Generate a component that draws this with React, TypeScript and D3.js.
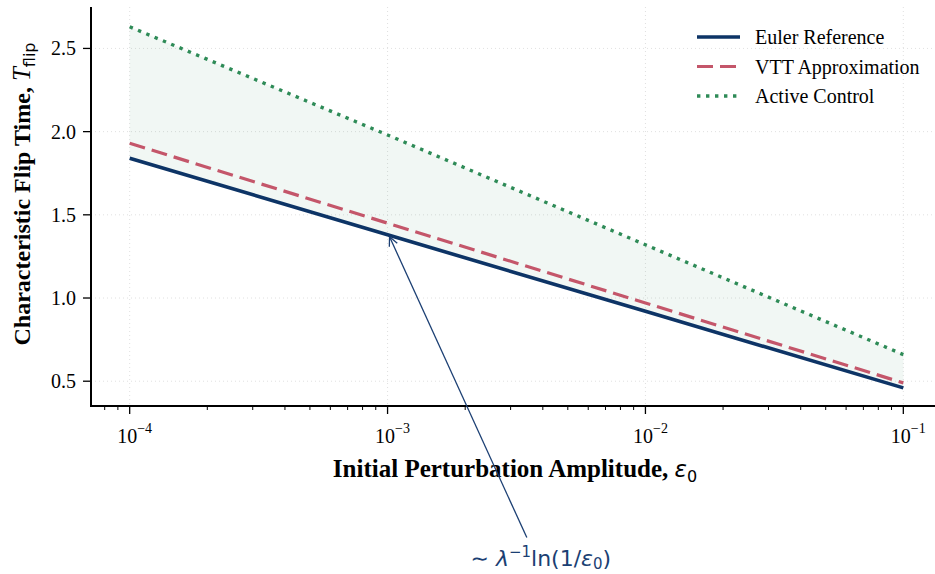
import React, { useEffect, useRef } from "react";
import * as d3 from "d3";

// values (straight lines on log x, so decades are enough)
const epsValues = [1e-4, 1e-3, 1e-2, 1e-1];
const eulerRef = [1.84, 1.38, 0.92, 0.46];
const vttApprox = [1.93, 1.45, 0.97, 0.49];
const activeControl = [2.63, 1.98, 1.32, 0.66];

const xTickExps = [-4, -3, -2, -1];
const yTicks = [0.5, 1.0, 1.5, 2.0, 2.5];

const seriesNames = ["Euler Reference", "VTT Approximation", "Active Control"];

const annotTarget = [1e-3, 1.38];
const annotText = [4e-3, -0.56];

export default function App() {
  const ref = useRef<SVGSVGElement>(null);

  useEffect(() => {
    document.body.style.margin = "0";
    const width = 935;
    const height = 574;
    const svg = d3.select(ref.current);
    svg.selectAll("*").remove();
    svg.attr("width", width).attr("height", height);

    const serif = "'Liberation Serif', 'Times New Roman', serif";
    const sans = "'DejaVu Sans', sans-serif";

    const x = d3.scaleLog().domain([10 ** -4.15, 10 ** -0.85]).range([91, 942]);
    const y = d3.scaleLinear().domain([0.351, 2.749]).range([406, 7]);

    const colors = { euler: "#0d3466", vtt: "#c4566a", active: "#2e8b57" };

    const rows = epsValues.map((e, i) => ({
      e,
      euler: eulerRef[i],
      vtt: vttApprox[i],
      active: activeControl[i],
    }));

    // grid
    const grid = svg.append("g");
    yTicks.forEach((t) => {
      grid.append("line")
        .attr("x1", 91).attr("x2", 942)
        .attr("y1", y(t)).attr("y2", y(t))
        .attr("stroke", "#d8d8d8").attr("stroke-width", 0.8)
        .attr("stroke-dasharray", "1,3");
    });
    xTickExps.forEach((p) => {
      grid.append("line")
        .attr("x1", x(10 ** p)).attr("x2", x(10 ** p))
        .attr("y1", 7).attr("y2", 406)
        .attr("stroke", "#d8d8d8").attr("stroke-width", 0.8)
        .attr("stroke-dasharray", "1,3");
    });

    // shaded band between euler and active control
    const band = d3.area<any>()
      .x((d) => x(d.e))
      .y0((d) => y(d.euler))
      .y1((d) => y(d.active));
    svg.append("path")
      .datum(rows)
      .attr("d", band)
      .attr("fill", colors.active)
      .attr("fill-opacity", 0.065);

    const line = (key: string) =>
      d3.line<any>().x((d) => x(d.e)).y((d) => y(d[key]));

    svg.append("path").datum(rows).attr("d", line("euler"))
      .attr("fill", "none").attr("stroke", colors.euler).attr("stroke-width", 3.6);
    svg.append("path").datum(rows).attr("d", line("vtt"))
      .attr("fill", "none").attr("stroke", colors.vtt).attr("stroke-width", 3.2)
      .attr("stroke-dasharray", "16,7");
    svg.append("path").datum(rows).attr("d", line("active"))
      .attr("fill", "none").attr("stroke", colors.active).attr("stroke-width", 3.4)
      .attr("stroke-dasharray", "3.4,5.6");

    // axes spines
    svg.append("line").attr("x1", 91).attr("x2", 91).attr("y1", 7).attr("y2", 407)
      .attr("stroke", "#000").attr("stroke-width", 2);
    svg.append("line").attr("x1", 90).attr("x2", 942).attr("y1", 406).attr("y2", 406)
      .attr("stroke", "#000").attr("stroke-width", 2);

    // y ticks
    yTicks.forEach((t) => {
      svg.append("line").attr("x1", 83).attr("x2", 91)
        .attr("y1", y(t)).attr("y2", y(t)).attr("stroke", "#000").attr("stroke-width", 1.3);
      svg.append("text").attr("x", 76).attr("y", y(t) + 7)
        .attr("text-anchor", "end").style("font-family", serif).style("font-size", "20px")
        .text(t.toFixed(1));
    });

    // x ticks (major + minor)
    const [d0, d1] = x.domain();
    for (let p = -5; p <= 0; p++) {
      for (let m = 1; m <= 9; m++) {
        const v = m * 10 ** p;
        if (v < d0 || v > d1) continue;
        const major = m === 1;
        svg.append("line").attr("x1", x(v)).attr("x2", x(v))
          .attr("y1", 406).attr("y2", 406 + (major ? 8 : 4))
          .attr("stroke", "#000").attr("stroke-width", major ? 1.3 : 1);
      }
    }
    xTickExps.forEach((p) => {
      const t = svg.append("text").attr("x", x(10 ** p) + 5).attr("y", 443)
        .attr("text-anchor", "middle").style("font-family", serif).style("font-size", "20px");
      t.append("tspan").text("10");
      t.append("tspan").attr("dy", -10).style("font-size", "14px").text("\u2212" + Math.abs(p));
    });

    // axis labels
    const xl = svg.append("text").attr("x", 515).attr("y", 477)
      .attr("text-anchor", "middle").style("font-family", serif)
      .style("font-size", "25px").style("font-weight", "bold");
    xl.append("tspan").text("Initial Perturbation Amplitude, ");
    xl.append("tspan").style("font-family", sans).style("font-style", "italic")
      .style("font-weight", "normal").style("font-size", "23px").text("\u03b5");
    xl.append("tspan").attr("dy", 5).style("font-family", sans)
      .style("font-weight", "normal").style("font-size", "16px").text("0");

    const yl = svg.append("text")
      .attr("transform", "translate(30,194) rotate(-90)")
      .attr("text-anchor", "middle").style("font-family", serif)
      .style("font-size", "24px").style("font-weight", "bold");
    yl.append("tspan").text("Characteristic Flip Time, ");
    yl.append("tspan").style("font-style", "italic").style("font-weight", "normal")
      .style("font-size", "25px").text("T");
    yl.append("tspan").attr("dy", 5).style("font-family", sans).style("font-weight", "normal")
      .style("font-size", "16px").text("flip");

    // legend
    const legend = svg.append("g").attr("transform", "translate(697,37)");
    const styles = [
      { c: colors.euler, w: 3.6, dash: null },
      { c: colors.vtt, w: 3.2, dash: "16,7" },
      { c: colors.active, w: 3.4, dash: "3.4,5.6" },
    ];
    seriesNames.forEach((name, i) => {
      const g = legend.append("g").attr("transform", `translate(0,${i * 29.5})`);
      const l = g.append("line").attr("x1", 0).attr("x2", 43).attr("y1", 0).attr("y2", 0)
        .attr("stroke", styles[i].c).attr("stroke-width", styles[i].w);
      if (styles[i].dash) l.attr("stroke-dasharray", styles[i].dash);
      g.append("text").attr("x", 58).attr("y", 7).style("font-family", serif)
        .style("font-size", "20px").text(name);
    });

    // annotation
    const tx = x(annotText[0]);
    const ty = y(annotText[1]);
    const ax = x(annotTarget[0]) + 2;
    const ay = y(annotTarget[1]) + 2;
    const sx = tx - 16;
    const sy = ty - 20;
    svg.append("line").attr("x1", sx).attr("y1", sy).attr("x2", ax).attr("y2", ay)
      .attr("stroke", "#1b3f73").attr("stroke-width", 1.3);
    const ang = Math.atan2(ay - sy, ax - sx);
    const hl = 10;
    [0.45, -0.45].forEach((da) => {
      svg.append("line").attr("x1", ax).attr("y1", ay)
        .attr("x2", ax - hl * Math.cos(ang + da)).attr("y2", ay - hl * Math.sin(ang + da))
        .attr("stroke", "#1b3f73").attr("stroke-width", 1.3);
    });
    const at = svg.append("text").attr("x", tx - 2).attr("y", ty + 8)
      .attr("text-anchor", "middle").style("font-family", sans)
      .style("font-size", "22px").attr("fill", "#1b3f73");
    at.append("tspan").text("\u223c ");
    at.append("tspan").style("font-style", "italic").text("\u03bb");
    at.append("tspan").attr("dy", -9).style("font-size", "15px").text("\u22121");
    at.append("tspan").attr("dy", 9).text("ln(1/");
    at.append("tspan").style("font-style", "italic").text("\u03b5");
    at.append("tspan").attr("dy", 3).style("font-size", "15px").text("0");
    at.append("tspan").attr("dy", -3).text(")");
  }, []);

  return <svg ref={ref} style={{ display: "block" }} />;
}
